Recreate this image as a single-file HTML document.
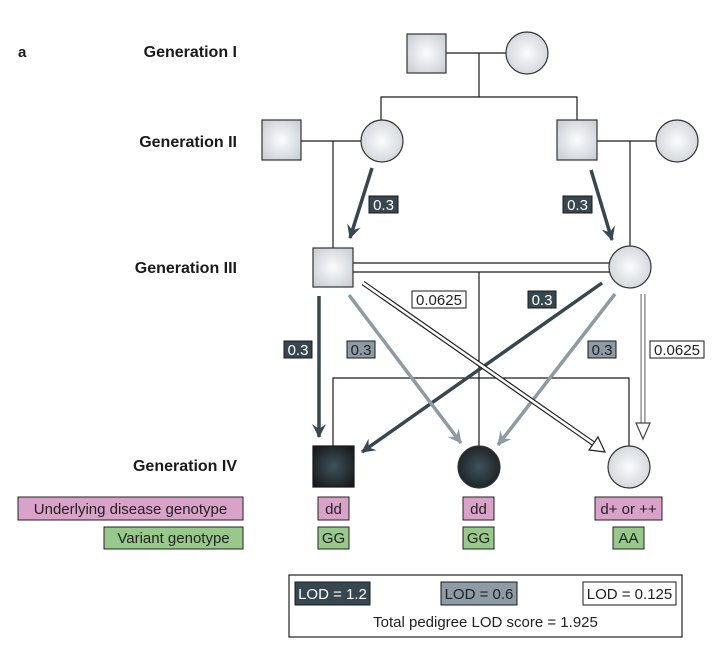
<!DOCTYPE html>
<html><head><meta charset="utf-8"><style>
html,body{margin:0;padding:0;background:#fff}
svg{display:block}
text{font-family:"Liberation Sans",sans-serif}
</style></head><body>
<svg width="718" height="646" viewBox="0 0 718 646" xmlns="http://www.w3.org/2000/svg">
<defs>
<radialGradient id="lg" cx="50%" cy="50%" r="65%"><stop offset="0" stop-color="#fbfcfd"/><stop offset="1" stop-color="#c9ced4"/></radialGradient>
<radialGradient id="dg" cx="50%" cy="50%" r="65%"><stop offset="0" stop-color="#3f535c"/><stop offset="1" stop-color="#161819"/></radialGradient>
<marker id="md" markerUnits="userSpaceOnUse" markerWidth="16" markerHeight="16" refX="13" refY="8" orient="auto"><path d="M0,1 L14,8 L0,15 L5,8 Z" fill="#37474f"/></marker>
<marker id="mg" markerUnits="userSpaceOnUse" markerWidth="16" markerHeight="16" refX="13" refY="8" orient="auto"><path d="M0,1 L14,8 L0,15 L5,8 Z" fill="#8c9ba4"/></marker>
</defs>
<g stroke="#1a1a1a" stroke-width="1.2" fill="none">
<line x1="446" y1="53" x2="506" y2="53"/>
<line x1="479" y1="53" x2="479" y2="97"/>
<polyline points="381,120 381,97 577,97 577,120"/>
<line x1="301" y1="141" x2="361" y2="141"/>
<line x1="333" y1="141" x2="333" y2="248"/>
<line x1="597" y1="141" x2="656" y2="141"/>
<line x1="630" y1="141" x2="630" y2="246"/>
<line x1="353" y1="263" x2="610" y2="263"/>
<line x1="353" y1="272" x2="610" y2="272"/>
<line x1="479" y1="272" x2="479" y2="446"/>
<polyline points="333,446 333,378 629,378 629,446"/>
</g>
<g stroke="#333" stroke-width="1.2">
<rect x="407" y="34" width="39" height="39" fill="url(#lg)"/>
<circle cx="527" cy="53" r="21" fill="url(#lg)"/>
<rect x="262" y="120" width="39" height="40" fill="url(#lg)"/>
<circle cx="382" cy="141" r="21" fill="url(#lg)"/>
<rect x="557" y="120" width="40" height="40" fill="url(#lg)"/>
<circle cx="677" cy="141" r="21" fill="url(#lg)"/>
<rect x="313" y="248" width="40" height="39" fill="url(#lg)"/>
<circle cx="630" cy="267" r="21" fill="url(#lg)"/>
<rect x="313" y="446" width="41" height="41" fill="url(#dg)" stroke="#161819"/>
<circle cx="479" cy="467" r="21" fill="url(#dg)"/>
<circle cx="629" cy="467" r="21" fill="url(#lg)"/>
</g>
<g stroke-width="3.5" fill="none">
<line x1="372" y1="168" x2="350" y2="238" stroke="#37474f" marker-end="url(#md)"/>
<line x1="591" y1="170" x2="612" y2="240" stroke="#37474f" marker-end="url(#md)"/>
<line x1="319" y1="296" x2="319" y2="437" stroke="#37474f" marker-end="url(#md)"/>
<line x1="602" y1="283" x2="362" y2="452" stroke="#37474f" marker-end="url(#md)"/>
<line x1="349" y1="295" x2="461" y2="443" stroke="#8c9ba4" marker-end="url(#mg)"/>
<line x1="615" y1="294" x2="498" y2="445" stroke="#8c9ba4" marker-end="url(#mg)"/>
</g>
<g fill="none">
<line x1="363" y1="283" x2="594" y2="444" stroke="#222" stroke-width="5"/>
<line x1="363" y1="283" x2="594" y2="444" stroke="#fff" stroke-width="2.6"/>
<polygon points="589,450 605,452 598,437" stroke="#222" stroke-width="1.2" fill="#fff"/>
<line x1="643" y1="294" x2="643" y2="426" stroke="#777" stroke-width="5"/>
<line x1="643" y1="294" x2="643" y2="426" stroke="#fff" stroke-width="2.6"/>
<polygon points="636,423 643,439 650,423" stroke="#444" stroke-width="1.2" fill="#fff"/>
</g>
<g font-size="15">
<rect x="369" y="196" width="29" height="17" fill="#37474f" stroke="#1a1a1a"/><text x="383.5" y="210" fill="#fff" text-anchor="middle">0.3</text>
<rect x="563" y="196" width="29" height="17" fill="#37474f" stroke="#1a1a1a"/><text x="577.5" y="210" fill="#fff" text-anchor="middle">0.3</text>
<rect x="284" y="341" width="28" height="17" fill="#37474f" stroke="#1a1a1a"/><text x="298" y="355" fill="#fff" text-anchor="middle">0.3</text>
<rect x="528" y="291" width="28" height="17" fill="#37474f" stroke="#1a1a1a"/><text x="542" y="305" fill="#fff" text-anchor="middle">0.3</text>
<rect x="347" y="341" width="28" height="17" fill="#8c9ba4" stroke="#1a1a1a"/><text x="361" y="355" fill="#222" text-anchor="middle">0.3</text>
<rect x="588" y="341" width="28" height="17" fill="#8c9ba4" stroke="#1a1a1a"/><text x="602" y="355" fill="#222" text-anchor="middle">0.3</text>
<rect x="412" y="291" width="54" height="17" fill="#fff" stroke="#1a1a1a"/><text x="439" y="305" fill="#222" text-anchor="middle">0.0625</text>
<rect x="650" y="341" width="54" height="17" fill="#fff" stroke="#1a1a1a"/><text x="677" y="355" fill="#222" text-anchor="middle">0.0625</text>
</g>
<g font-size="16" font-weight="bold" fill="#1a1a1a" text-anchor="end">
<text x="237" y="57">Generation I</text>
<text x="237" y="147">Generation II</text>
<text x="237" y="273">Generation III</text>
<text x="237" y="471">Generation IV</text>
</g>
<text x="18" y="57" font-size="15" font-weight="bold" fill="#1a1a1a">a</text>
<g font-size="15" fill="#222" text-anchor="middle" stroke-width="1">
<rect x="18" y="497" width="225" height="23" fill="#d9a3c9" stroke="#222"/><text x="130.5" y="514">Underlying disease genotype</text>
<rect x="104" y="527" width="139" height="22" fill="#97c98b" stroke="#222"/><text x="173.5" y="543">Variant genotype</text>
<rect x="318" y="497" width="31" height="23" fill="#d9a3c9" stroke="#222"/><text x="333.5" y="514">dd</text>
<rect x="318" y="527" width="31" height="22" fill="#97c98b" stroke="#222"/><text x="333.5" y="543">GG</text>
<rect x="463" y="497" width="31" height="23" fill="#d9a3c9" stroke="#222"/><text x="478.5" y="514">dd</text>
<rect x="463" y="527" width="31" height="22" fill="#97c98b" stroke="#222"/><text x="478.5" y="543">GG</text>
<rect x="595" y="497" width="67" height="23" fill="#d9a3c9" stroke="#222"/><text x="628.5" y="514">d+ or ++</text>
<rect x="613" y="527" width="31" height="22" fill="#97c98b" stroke="#222"/><text x="628.5" y="543">AA</text>
</g>
<rect x="289" y="575" width="393" height="62" fill="#fff" stroke="#222" stroke-width="1.2"/>
<g font-size="15" text-anchor="middle">
<rect x="295" y="582" width="75" height="23" fill="#37474f" stroke="#1a1a1a"/><text x="332.5" y="599" fill="#fff">LOD = 1.2</text>
<rect x="441" y="582" width="76" height="23" fill="#8c9ba4" stroke="#1a1a1a"/><text x="479" y="599" fill="#222">LOD = 0.6</text>
<rect x="583" y="582" width="93" height="23" fill="#fff" stroke="#1a1a1a"/><text x="629.5" y="599" fill="#222">LOD = 0.125</text>
<text x="485.5" y="627" fill="#222">Total pedigree LOD score = 1.925</text>
</g>
</svg>
</body></html>
